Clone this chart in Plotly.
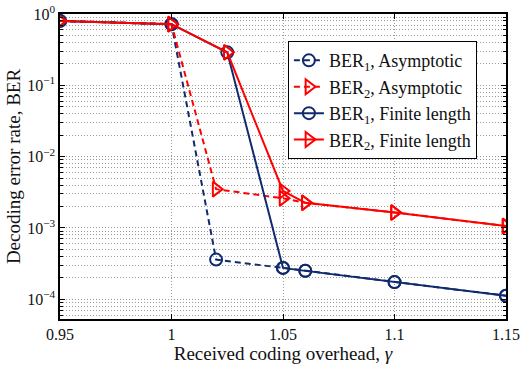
import plotly.graph_objects as go

gamma_asym = [0.95, 1.0, 1.02, 1.05, 1.06, 1.1, 1.15]
ber1_asym = [0.80, 0.72, 3.6e-4, 2.75e-4, 2.5e-4, 1.74e-4, 1.12e-4]
ber2_asym = [0.80, 0.72, 3.5e-3, 2.6e-3, 2.25e-3, 1.65e-3, 1.06e-3]
gamma_fin = [0.95, 1.0, 1.025, 1.05, 1.06, 1.1, 1.15]
ber1_fin = [0.80, 0.72, 0.29, 2.75e-4, 2.5e-4, 1.74e-4, 1.12e-4]
ber2_fin = [0.80, 0.72, 0.29, 3.3e-3, 2.25e-3, 1.65e-3, 1.06e-3]

x_ticks = [0.95, 1.0, 1.05, 1.1, 1.15]
x_ticktext = ["0.95", "1", "1.05", "1.1", "1.15"]
y_ticks = [1, 1e-1, 1e-2, 1e-3, 1e-4]
y_ticktext = ["10<sup>0</sup>", "10<sup>−1</sup>", "10<sup>−2</sup>", "10<sup>−3</sup>", "10<sup>−4</sup>"]
y_minor = [k * 10.0 ** e for e in range(-5, 0) for k in range(2, 10)]

NAVY = "#0f2a6f"
RED = "#ff0000"
FONT = "Liberation Serif"
GRID = "#9a9a9a"
DOTS = "1px,2px"

fig = go.Figure()
fig.add_trace(go.Scatter(x=gamma_asym, y=ber1_asym, mode="lines+markers",
    name="BER<sub>1</sub>, Asymptotic",
    line=dict(color=NAVY, width=2, dash="6px,4px"),
    marker=dict(symbol="circle-open", size=12, color=NAVY, line=dict(width=2))))
fig.add_trace(go.Scatter(x=gamma_asym, y=ber2_asym, mode="lines+markers",
    name="BER<sub>2</sub>, Asymptotic",
    line=dict(color=RED, width=2, dash="6px,4px"),
    marker=dict(symbol="triangle-right-open", size=13, color=RED, line=dict(width=2))))
fig.add_trace(go.Scatter(x=gamma_fin, y=ber1_fin, mode="lines+markers",
    name="BER<sub>1</sub>, Finite length",
    line=dict(color=NAVY, width=2),
    marker=dict(symbol="circle-open", size=12, color=NAVY, line=dict(width=2))))
fig.add_trace(go.Scatter(x=gamma_fin, y=ber2_fin, mode="lines+markers",
    name="BER<sub>2</sub>, Finite length",
    line=dict(color=RED, width=2),
    marker=dict(symbol="triangle-right-open", size=13, color=RED, line=dict(width=2))))

fig.update_layout(
    width=520, height=365,
    margin=dict(l=60, r=14, t=14, b=46),
    paper_bgcolor="white", plot_bgcolor="white",
    font=dict(family=FONT, size=17, color="#111"),
    legend=dict(x=0.511, y=0.911, xanchor="left", yanchor="top",
                bgcolor="white", bordercolor="black", borderwidth=1,
                font=dict(family=FONT, size=18), tracegroupgap=0, itemwidth=30),
    xaxis=dict(range=[0.95, 1.15], tickvals=x_ticks, ticktext=x_ticktext,
               showline=True, linecolor="black", linewidth=1.5, mirror="ticks",
               ticks="inside", ticklen=5, tickcolor="black",
               showgrid=True, gridcolor=GRID, griddash=DOTS, gridwidth=1,
               zeroline=False, tickfont=dict(size=16), automargin=False,
               ticklabeloverflow="allow",
               title=dict(text="Received coding overhead, <i>γ</i>", font=dict(family=FONT, size=19), standoff=3)),
    yaxis=dict(type="log", range=[-4.277, 0], tickvals=y_ticks, ticktext=y_ticktext,
               showline=True, linecolor="black", linewidth=1.5, mirror="ticks",
               ticks="inside", ticklen=5, tickcolor="black",
               showgrid=True, gridcolor=GRID, griddash=DOTS, gridwidth=1,
               minor=dict(tickvals=y_minor, showgrid=True, gridcolor=GRID, griddash=DOTS,
                          gridwidth=1, ticks="inside", ticklen=3, tickcolor="black"),
               zeroline=False, tickfont=dict(size=16), automargin=False,
               ticklabeloverflow="allow",
               title=dict(text="Decoding error rate, BER", font=dict(family=FONT, size=19), standoff=1)),
)

# remove the browser's default 8px body margin so the figure fills the 520x365 window
fig.write_html("out.html", config={"displayModeBar": False},
               post_script="document.body.style.margin='0';document.body.style.overflow='hidden';")
